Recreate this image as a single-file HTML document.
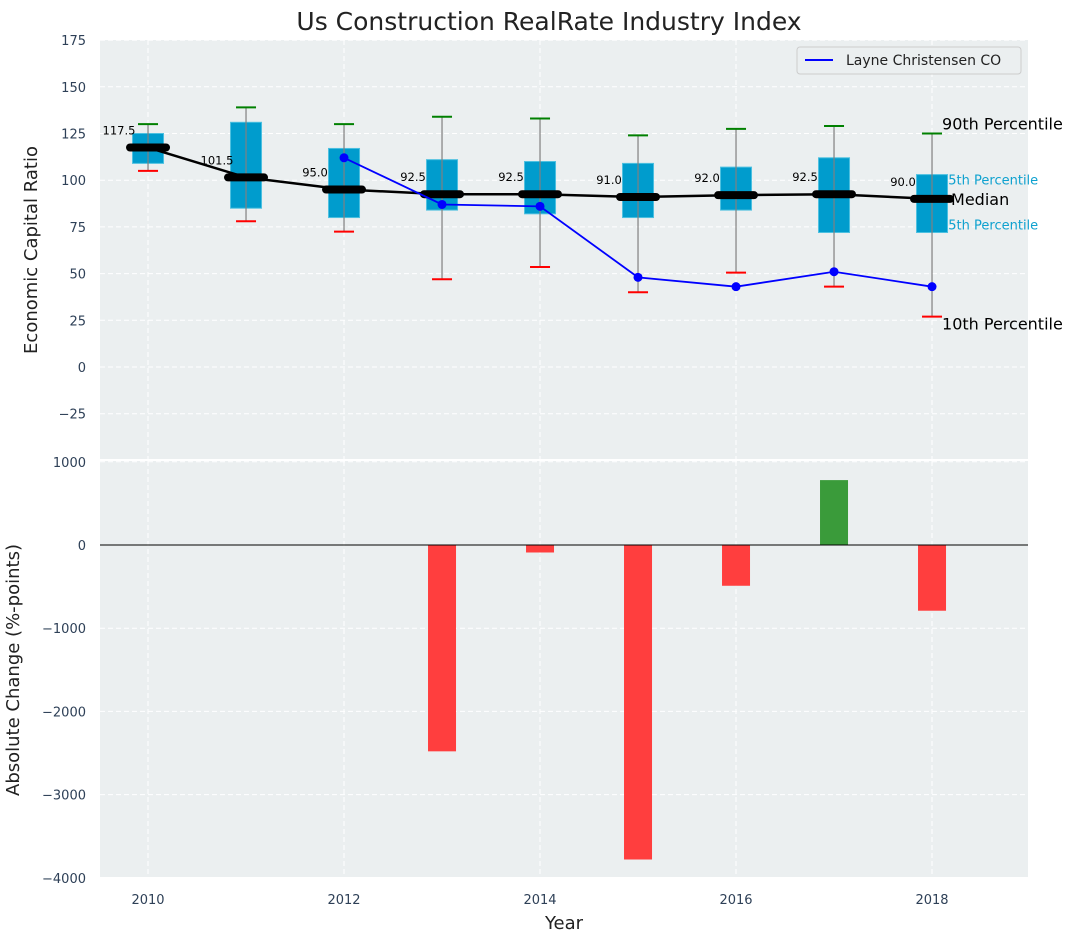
<!DOCTYPE html>
<html><head><meta charset="utf-8"><style>
body{margin:0;background:#fff;font-family:"Liberation Sans","DejaVu Sans",sans-serif}
svg text{font-family:"DejaVu Sans","Liberation Sans",sans-serif}
</style></head><body>
<svg id="c" width="1077" height="942" xmlns="http://www.w3.org/2000/svg"></svg>
<script>
const years=[2010,2011,2012,2013,2014,2015,2016,2017,2018];
const p10=[105,78,72.5,47,53.5,40,50.5,43,27];
const p25=[109,85,80,84,82,80,84,72,72];
const median=[117.5,101.5,95,92.5,92.5,91,92,92.5,90];
const p75=[125,131,117,111,110,109,107,112,103];
const p90=[130,139,130,134,133,124,127.5,129,125];
const compYears=[2012,2013,2014,2015,2016,2017,2018];
const compVals=[112,87,86,48,43,51,43];
const changeYears=[2013,2014,2015,2016,2017,2018];
const changeVals=[-2480,-90,-3780,-490,780,-790];
const topTicks=[175,150,125,100,75,50,25,0,-25];
const botTicks=[1000,0,-1000,-2000,-3000,-4000];
const xTicks=[2010,2012,2014,2016,2018];

const svg=document.getElementById('c');const NS='http://www.w3.org/2000/svg';
function el(t,a,txt){const e=document.createElementNS(NS,t);for(const k in a)e.setAttribute(k,a[k]);if(txt!==undefined)e.textContent=txt;svg.appendChild(e);return e;}
const X=v=>100+(v-2009.51)*98;
const Y1=v=>367-v*46.7/25;
const Y2=v=>545-v*0.0832;

let e;
e=el('text',{x:549,y:30,'font-size':25,'text-anchor':'middle',fill:'#222'},'Us Construction RealRate Industry Index');

e=el('rect',{x:100,y:40,width:928,height:419,fill:'#ebeff0'});

e=el('rect',{x:100,y:461,width:928,height:416,fill:'#ebeff0'});

for(const t of topTicks){
 el('line',{x1:100,x2:1028,y1:Y1(t),y2:Y1(t),stroke:'#fff','stroke-dasharray':'5,3','stroke-width':1});
 e=el('text',{x:86,y:Y1(t)+5,'font-size':13,'text-anchor':'end',fill:'#2e4057'},t<0?'\u2212'+(-t):String(t));
 
}
for(const t of botTicks){
 el('line',{x1:100,x2:1028,y1:Y2(t),y2:Y2(t),stroke:'#fff','stroke-dasharray':'5,3','stroke-width':1});
 e=el('text',{x:86,y:Y2(t)+5,'font-size':13,'text-anchor':'end',fill:'#2e4057'},t<0?'\u2212'+(-t):String(t));
 
}
for(const t of xTicks){
 el('line',{x1:X(t),x2:X(t),y1:40,y2:459,stroke:'#fff','stroke-dasharray':'5,3'});
 el('line',{x1:X(t),x2:X(t),y1:461,y2:877,stroke:'#fff','stroke-dasharray':'5,3'});
 e=el('text',{x:X(t),y:904,'font-size':13,'text-anchor':'middle',fill:'#2e4057'},String(t));
 
}
e=el('text',{x:37,y:250,'font-size':18,'text-anchor':'middle',fill:'#222',transform:'rotate(-90 37 250)'},'Economic Capital Ratio');

e=el('text',{x:19,y:670,'font-size':18,'text-anchor':'middle',fill:'#222',transform:'rotate(-90 19 670)'},'Absolute Change (%-points)');

e=el('text',{x:564,y:929,'font-size':18,'text-anchor':'middle',fill:'#222'},'Year');

const li=years.length-1,lx=X(years[li]);
e=el('text',{x:lx+10,y:Y1(p90[li])-4,'font-size':16,fill:'#000'},'90th Percentile');
e=el('text',{x:lx+8,y:Y1(p75[li])+10,'font-size':13,fill:'#0ea1cf'},'75th Percentile');
e=el('text',{x:lx+8,y:Y1(p25[li])-3,'font-size':13,fill:'#0ea1cf'},'25th Percentile');
e=el('text',{x:lx+10,y:Y1(p10[li])+13,'font-size':16,fill:'#000'},'10th Percentile');
years.forEach((y,i)=>{
 const x=X(y);
 e=el('rect',{x:x-15.5,y:Y1(p75[i]),width:31,height:Y1(p25[i])-Y1(p75[i]),fill:'#009ccd',stroke:'#4cc0e0','stroke-width':1});
 
 e=el('line',{x1:x,x2:x,y1:Y1(p90[i]),y2:Y1(p10[i]),stroke:'#808080','stroke-width':1.2});
 
 e=el('line',{x1:x-10,x2:x+10,y1:Y1(p90[i]),y2:Y1(p90[i]),stroke:'#008000','stroke-width':2});
 
 e=el('line',{x1:x-10,x2:x+10,y1:Y1(p10[i]),y2:Y1(p10[i]),stroke:'#ff0000','stroke-width':2});
 
});
e=el('text',{x:lx+19,y:Y1(median[li])+6,'font-size':16,fill:'#000'},'Median');
e=el('polyline',{points:years.map((y,i)=>X(y)+','+Y1(median[i])).join(' '),fill:'none',stroke:'#000','stroke-width':2.5});

years.forEach((y,i)=>{
 e=el('line',{x1:X(y)-18,x2:X(y)+18,y1:Y1(median[i]),y2:Y1(median[i]),stroke:'#000','stroke-width':8,'stroke-linecap':'round'});
 
 e=el('text',{x:X(y)-29,y:Y1(median[i])-13,'font-size':11.5,'text-anchor':'middle',fill:'#000'},median[i].toFixed(1));
 
});
e=el('polyline',{points:compYears.map((y,i)=>X(y)+','+Y1(compVals[i])).join(' '),fill:'none',stroke:'#0000ff','stroke-width':1.8});

compYears.forEach((y,i)=>{e=el('circle',{cx:X(y),cy:Y1(compVals[i]),r:4.5,fill:'#0000ff'});
 });
e=el('rect',{x:797,y:47,width:224,height:27,rx:3,fill:'#ebeff0',stroke:'#ccc'});

el('line',{x1:805,x2:833,y1:60,y2:60,stroke:'#0000ff','stroke-width':2});
e=el('text',{x:846,y:65,'font-size':14,fill:'#222'},'Layne Christensen CO');

changeYears.forEach((y,i)=>{
 const v=changeVals[i];const y0=Y2(Math.max(v,0)),y1=Y2(Math.min(v,0));
 e=el('rect',{x:X(y)-14,y:y0,width:28,height:y1-y0,fill:v>=0?'#3a9b3a':'#ff3e3e'});
 
});
el('line',{x1:100,x2:1028,y1:Y2(0),y2:Y2(0),stroke:'#000','stroke-width':1});
</script>
</body></html>
